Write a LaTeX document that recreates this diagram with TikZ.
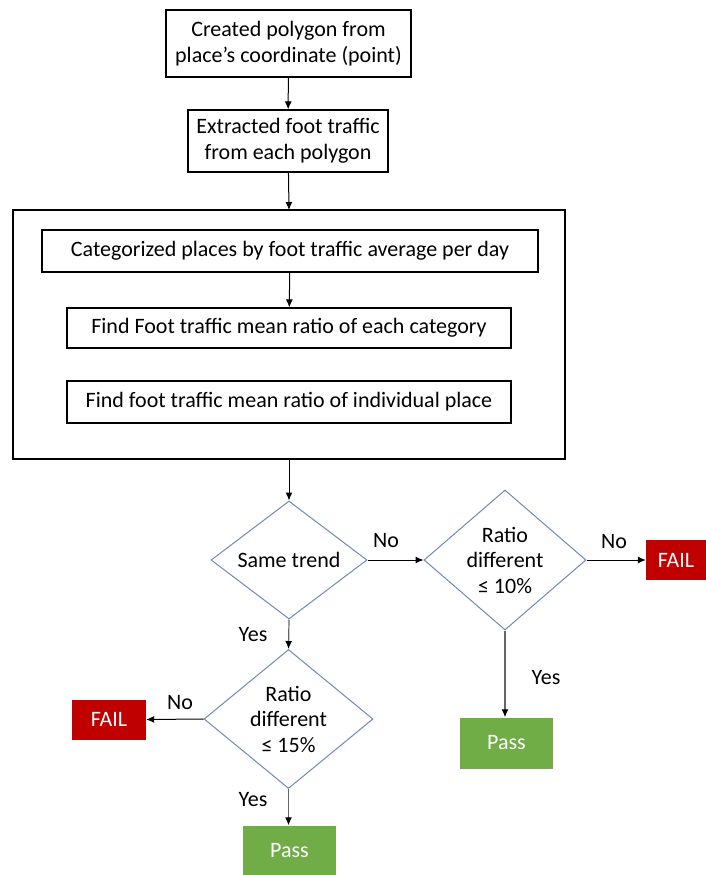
\documentclass[tikz,border=0pt]{standalone}
\usepackage{fontspec}
\setmainfont{Carlito}
\usetikzlibrary{shapes.geometric,arrows.meta}
\definecolor{decline}{RGB}{110,137,186}
\definecolor{failred}{RGB}{192,0,0}
\definecolor{passgreen}{RGB}{112,173,71}
\tikzset{
  stepbox/.style={draw=black, line width=1.2pt, align=center, inner sep=0pt},
  decision/.style={diamond, draw=decline, line width=1pt, align=center, inner sep=-8pt},
  failbox/.style={fill=failred, text=white, minimum width=74pt, minimum height=40pt, inner sep=0pt},
  passbox/.style={fill=passgreen, text=white, minimum width=93pt, minimum height=51pt, inner sep=0pt},
  arrow/.style={-{Latex[length=8pt,width=7pt]}, black, line width=1pt},
  grayarrow/.style={-{Latex[length=8pt,width=7pt,black]}, black!60, line width=1.2pt},
}

\begin{document}
\begin{tikzpicture}[x=1pt, y=-1pt, font=\fontsize{22}{25.5}\selectfont]
        \useasboundingbox (0,0) rectangle (706,875);
        %outer box
            \draw[black, line width=1.2pt] (13,210) rectangle (565,459);
            \coordinate (outtop) at (289,210);
            \coordinate (outbot) at (289,459);
        %boxes
            \node[stepbox, minimum width=245pt, minimum height=67pt] (poly) at (288.5,43.5) {Created polygon from\\place’s coordinate (point)};
            \node[stepbox, minimum width=200pt, minimum height=62pt] (extract) at (288,141) {Extracted foot traffic\\from each polygon};
            \node[stepbox, minimum width=496pt, minimum height=42pt] (categ) at (290,251) {Categorized places by foot traffic average per day};
            \node[stepbox, minimum width=444pt, minimum height=40pt] (catmean) at (289,328) {Find Foot traffic mean ratio of each category};
            \node[stepbox, minimum width=444pt, minimum height=42pt] (placemean) at (289,402) {Find foot traffic mean ratio of individual place};
        %decisions
            \node[decision, minimum width=156pt, minimum height=118pt] (trend) at (289,560) {Same trend};
            \node[decision, minimum width=162pt, minimum height=140pt] (ratioten) at (505,560) {Ratio\\different\\≤ 10\%};
            \node[decision, minimum width=169pt, minimum height=139pt] (ratiofif) at (288.5,719) {Ratio\\different\\≤ 15\%};
        %results
            \node[failbox, minimum width=60pt] (failten) at (676,560) {FAIL};
            \node[failbox] (failfif) at (109,719.5) {FAIL};
            \node[passbox] (passten) at (506.5,743) {Pass};
            \node[passbox] (passfif) at (289.5,851) {Pass};
        % lines
            \draw[arrow] (poly) -- (extract);
            \draw[arrow] (extract) -- (outtop);
            \draw[arrow] (categ) -- (catmean);
            \draw[arrow] (outbot) -- (trend.north);
            \draw[arrow] (trend.east) -- (ratioten.west);
            \draw[arrow] (ratioten.east) -- (failten.west);
            \draw[grayarrow] (ratioten.south) -- (ratioten.south |- passten.north);
            \draw[grayarrow] (trend.south) -- (ratiofif.north);
            \draw[arrow] (ratiofif.west) -- (failfif.east);
            \draw[grayarrow] (ratiofif.south) -- (ratiofif.south |- passfif.north);
        %labels
            \node[] (notrend) at (386,541) {No};
            \node[] (noten) at (614,542) {No};
            \node[] (yesten) at (546,678) {Yes};
            \node[] (yestrend) at (253,635) {Yes};
            \node[] (nofif) at (180,703) {No};
            \node[] (yesfif) at (253,800) {Yes};
    \end{tikzpicture}
\end{document}
